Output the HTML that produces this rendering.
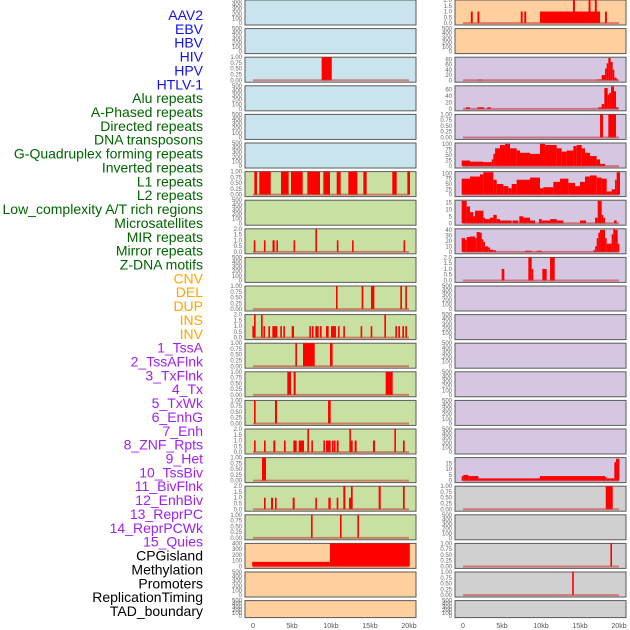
<!DOCTYPE html>
<html><head><meta charset="utf-8">
<style>
html,body{margin:0;padding:0;background:#fff;width:630px;height:630px;overflow:hidden}
svg{display:block;font-family:"Liberation Sans",sans-serif}
</style></head>
<body>
<svg id="chart" width="630" height="630" viewBox="0 0 630 630" xmlns="http://www.w3.org/2000/svg"></svg>
<script>
const NS="http://www.w3.org/2000/svg";
const svg=document.getElementById('chart');

// ---- data ----
const trackLabels=["AAV2","EBV","HBV","HIV","HPV","HTLV-1","Alu repeats","A-Phased repeats","Directed repeats","DNA transposons","G-Quadruplex forming repeats","Inverted repeats","L1 repeats","L2 repeats","Low_complexity A/T rich regions","Microsatellites","MIR repeats","Mirror repeats","Z-DNA motifs","CNV","DEL","DUP","INS","INV","1_TssA","2_TssAFlnk","3_TxFlnk","4_Tx","5_TxWk","6_EnhG","7_Enh","8_ZNF_Rpts","9_Het","10_TssBiv","11_BivFlnk","12_EnhBiv","13_ReprPC","14_ReprPCWk","15_Quies","CPGisland","Methylation","Promoters","ReplicationTiming","TAD_boundary"];
const labelGroups=[6,13,5,15,5];
const groupColors=["#1010ee","#006400","#ffa500","#a020f0","#000000"];
const xTickValues=[0,5,10,15,20];
const xTickLabels=["0","5kb","10kb","15kb","20kb"];
const leftBg=["#c9e4ec","#c9e4ec","#c9e4ec","#c9e4ec","#c9e4ec","#c9e4ec","#c8e0a2","#c8e0a2","#c8e0a2","#c8e0a2","#c8e0a2","#c8e0a2","#c8e0a2","#c8e0a2","#c8e0a2","#c8e0a2","#c8e0a2","#c8e0a2","#c8e0a2","#ffcf9e","#ffcf9e","#ffcf9e"];
const rightBg=["#ffcf9e","#ffcf9e","#d5c6e2","#d5c6e2","#d5c6e2","#d5c6e2","#d5c6e2","#d5c6e2","#d5c6e2","#d5c6e2","#d5c6e2","#d5c6e2","#d5c6e2","#d5c6e2","#d5c6e2","#d5c6e2","#d5c6e2","#d0d0d0","#d0d0d0","#d0d0d0","#d0d0d0","#d0d0d0"];
const ticksEmpty=[0,100,200,300,400,500];
const ticks1=[0,0.25,0.5,0.75,1];
const ticks2=[0,0.5,1,1.5,2];

// segments: [startKb, endKb, value]
const L2=[[8.8,10.1,1]];
const L6=[[0.17,0.51,1],[0.81,2.27,1],[3.59,4.57,1],[4.87,6.37,1],[6.97,8.59,1],[9.02,9.87,1],[10.73,11.24,1],[12.22,13.38,1],[14.15,14.57,1],[17.86,18.42,1],[19.79,20.13,1]];
const L8=[[0.1,0.3,1],[1.4,1.6,1],[2.5,2.78,1],[3.0,3.2,1],[5.2,5.4,1],[8.0,8.2,2],[10.75,10.95,1],[12.7,12.9,1],[19.3,19.5,1]];
const L10=[[10.64,10.81,1],[13.93,14.15,1],[15.13,15.56,1],[18.89,19.1,1],[19.53,19.7,1]];
const L11=[[-0.08,0.04,1],[0.13,0.34,2],[1.03,1.24,2],[1.33,1.5,1],[1.97,2.18,1],[2.48,3.12,1],[3.5,3.68,1],[3.89,4.06,1],[4.96,5.26,1],[7.22,7.39,1],[7.56,7.74,1],[7.99,8.42,1],[8.59,8.8,1],[9.36,9.7,1],[10.0,10.64,1],[10.9,11.07,1],[11.58,11.75,1],[13.8,13.98,1],[15.09,15.26,1],[16.84,17.01,2],[18.25,18.42,1],[18.63,18.85,1],[19.15,19.36,1],[19.53,19.74,1]];
const L12=[[5.43,5.64,1],[6.41,7.91,1],[9.87,10.21,1]];
const L13=[[4.4,4.87,1],[5.21,5.47,1],[17.01,17.91,1]];
const L14=[[0.13,0.34,1],[2.82,3.08,1],[9.62,9.96,1]];
const L15=[[0.13,0.34,1],[1.41,1.62,1],[2.61,2.86,1],[3.97,4.19,1],[5.17,5.6,1],[5.86,6.54,1],[6.97,7.14,2],[7.48,7.65,1],[9.02,9.19,1],[9.36,9.96,1],[10.13,10.3,1],[10.38,10.56,1],[10.73,10.98,1],[12.35,12.52,2],[12.56,12.78,1],[13.03,13.29,1],[15.38,15.64,1],[18.12,18.29,2],[19.23,19.45,1]];
const L16=[[1.15,1.67,1]];
const L17=[[1.41,1.62,1],[2.31,2.57,1],[2.82,3.03,1],[5.09,5.34,1],[7.99,8.16,1],[9.66,9.96,1],[10.73,10.94,1],[11.58,11.84,2],[12.31,12.56,1],[12.56,12.78,2],[16.11,16.37,2],[19.23,19.45,2]];
const L18=[[7.44,7.61,1],[11.15,11.33,1],[13.38,13.55,1]];
const L19=[[-0.1,9.87,80],[9.87,20.1,400]];

const R0=[[1.0,1.25,1],[1.85,2.1,1],[7.4,7.65,1],[7.85,8.1,1],[9.87,17.57,1],[14.1,14.35,2],[16.1,16.35,2],[16.9,17.15,2],[18.2,18.45,1]];
const R2=[[1.97,2.4,3],[17.14,17.78,3],[17.78,18.21,20],[18.21,18.42,45],[18.42,18.63,65],[18.63,18.93,85],[18.93,19.19,70],[19.19,19.4,40],[19.4,19.7,10],[19.7,19.92,3]];
const R3=[[0.34,0.9,5],[1.84,2.7,5],[3.12,3.55,5],[17.35,17.78,5],[17.78,18.12,15],[18.12,18.55,65],[18.55,18.76,45],[18.76,18.98,50],[18.98,19.36,70],[19.36,19.62,55],[19.62,19.92,5]];
const R4=[[17.57,17.95,1],[18.63,19.62,1]];
const R5edges=[-0.17,0.9,2.61,3.68,3.89,4.11,4.75,5.39,6.03,6.88,7.31,8.59,9.87,10.52,12.01,12.65,13.29,14.15,14.58,15.22,15.64,16.28,17.14,17.57,18.21];
const R5values=[25,20,18,30,55,80,95,100,80,70,60,55,100,95,80,65,70,90,95,80,60,45,30,10];
const R6edges=[-0.17,0.9,2.18,2.61,3.89,4.32,5.17,5.81,6.24,6.88,8.59,9.87,10.3,11.58,12.44,13.51,14.36,15.0,15.64,16.28,17.14,17.78,18.42,19.06,19.49,19.7,20.13];
const R6values=[75,85,95,105,70,50,40,30,50,70,80,30,35,60,75,55,40,60,85,90,80,75,15,25,70,105];
const R7=[[-0.17,0.47,16],[0.47,0.9,12],[0.9,1.33,8],[1.33,1.54,5],[1.54,2.61,9],[2.61,2.82,4],[2.82,3.46,3],[3.46,3.89,4],[3.89,4.32,6],[4.32,4.75,3],[4.75,6.24,2],[6.35,7.1,2],[7.22,7.74,5],[7.74,8.59,4],[8.59,9.23,2],[9.75,10.09,3],[10.09,11.16,2],[11.16,12.01,3],[12.01,12.87,2],[15.0,15.77,2],[16.93,17.27,4],[17.27,17.78,16],[17.78,17.99,6],[17.99,18.21,4],[19.36,19.7,2]];
const R8=[[-0.17,0.26,25],[0.26,0.47,22],[0.47,0.9,27],[0.9,1.54,28],[1.54,1.75,25],[1.75,2.18,36],[2.18,2.4,35],[2.4,2.61,23],[2.61,2.82,18],[2.82,3.25,10],[3.25,3.46,8],[3.46,3.89,4],[3.89,4.23,3],[7.95,8.81,2],[9.45,10.09,2],[16.71,16.93,3],[16.93,17.14,10],[17.14,17.35,25],[17.35,17.57,35],[17.57,18.21,40],[18.21,18.42,25],[18.42,19.06,15],[19.06,19.27,32],[19.27,19.49,42],[19.49,19.83,40],[19.83,20.05,15]];
const R9=[[4.96,5.3,1],[8.38,8.81,2],[8.81,8.93,1],[10.17,10.73,1],[11.16,11.76,2]];
const R16=[[-0.17,0.05,4],[0.05,0.69,5],[0.69,1.97,4],[1.97,9.87,2],[9.87,18.21,4],[18.21,18.42,3],[18.42,19.4,2],[19.4,19.62,16],[19.62,20.05,19]];
const R17=[[18.3,19.2,1]];
const R19=[[18.9,19.05,1]];
const R20=[[14.0,14.15,1]];

function edgesToSegs(e,v){const s=[];for(let i=0;i<v.length;i++)s.push([e[i],e[i+1],v[i]]);return s;}

const leftPanels={2:[L2,ticks1,1],6:[L6,ticks1,1],8:[L8,ticks2,2],10:[L10,ticks1,1],11:[L11,ticks2,2],12:[L12,ticks1,1],13:[L13,ticks1,1],14:[L14,ticks1,1],15:[L15,ticks2,2],16:[L16,ticks1,1],17:[L17,ticks2,2],18:[L18,ticks1,1],19:[L19,[0,100,200,300,400],400]};
const rightPanels={0:[R0,ticks2,2],2:[R2,[0,20,40,60,80],88],3:[R3,[0,20,40,60],72],4:[R4,ticks1,1],5:[edgesToSegs(R5edges,R5values),[0,25,50,75,100],104],6:[edgesToSegs(R6edges,R6values),[0,25,50,75,100],108],7:[R7,[0,5,10,15],16.5],8:[R8,[0,10,20,30,40],42],9:[R9,ticks2,2],16:[R16,[0,5,10,15],20],17:[R17,ticks1,1],19:[R19,ticks1,1],20:[R20,ticks1,1]};

// ---- layout ----
const cols=[{x0:245,x1:416,z:253,bg:leftBg,panels:leftPanels,name:'left'},{x0:455,x1:626,z:463,bg:rightBg,panels:rightPanels,name:'right'}];
const pxPerKb=7.8;
const rowPitch=28.6, rowH=25;

function el(tag,attrs,parent){const e=document.createElementNS(NS,tag);for(const k in attrs)e.setAttribute(k,attrs[k]);(parent||svg).appendChild(e);return e;}
function fmt(t,ticks){const mx=ticks[ticks.length-1];if(mx===1)return t.toFixed(2);if(mx===2)return t.toFixed(1);return String(t);}

// labels
let li=0;
labelGroups.forEach((n,g)=>{for(let k=0;k<n;k++){const y=15+li*13.86;
 const t=el('text',{x:203,y:y+5,'text-anchor':'end','font-size':'14',fill:groupColors[g]});
 t.textContent=trackLabels[li];
 
 
 li++;}});

cols.forEach(c=>{
 const xs=kb=>c.z+kb*pxPerKb;
 for(let r=0;r<22;r++){
  const top=r*rowPitch; const h=(r===21)?17:rowH; const bot=top+h;
  const g=el('g',{});
  
  
  el('rect',{x:c.x0,y:top,width:c.x1-c.x0,height:h,fill:c.bg[r],stroke:'#5a5a5a','stroke-width':1},g);
  const p=c.panels[r];
  const ticks=p?p[1]:ticksEmpty; const ymax=p?p[2]:(ticksEmpty[5]);
  const ymin=-0.04*ymax;
  const ys=v=>bot-1-(v-ymin)/(ymax-ymin)*(h-1);
  ticks.forEach(t=>{const tt=el('text',{x:c.x0-3,y:ys(t)+2,'text-anchor':'end','font-size':'6',fill:'#666'},g);tt.textContent=fmt(t,ticks);
   
   });
  if(p){
   p[0].forEach(s=>{const x0=xs(s[0]),x1=xs(s[1]);const y=ys(s[2]);
    const b=el('rect',{x:x0,y:Math.max(top,y),width:Math.max(1.6,x1-x0),height:ys(0)-Math.max(top,y),fill:'#ff0000'},g);
    
    });
   const bl=el('line',{x1:xs(0),x2:xs(20),y1:ys(0),y2:ys(0),stroke:'rgba(200,50,50,0.55)','stroke-width':2},g);
   
   
  }
 }
 xTickValues.forEach((v,i)=>{const t=el('text',{x:xs(v),y:628,'text-anchor':'middle','font-size':'7',fill:'#555'});t.textContent=xTickLabels[i];
  
  });
});
</script>
</body></html>
